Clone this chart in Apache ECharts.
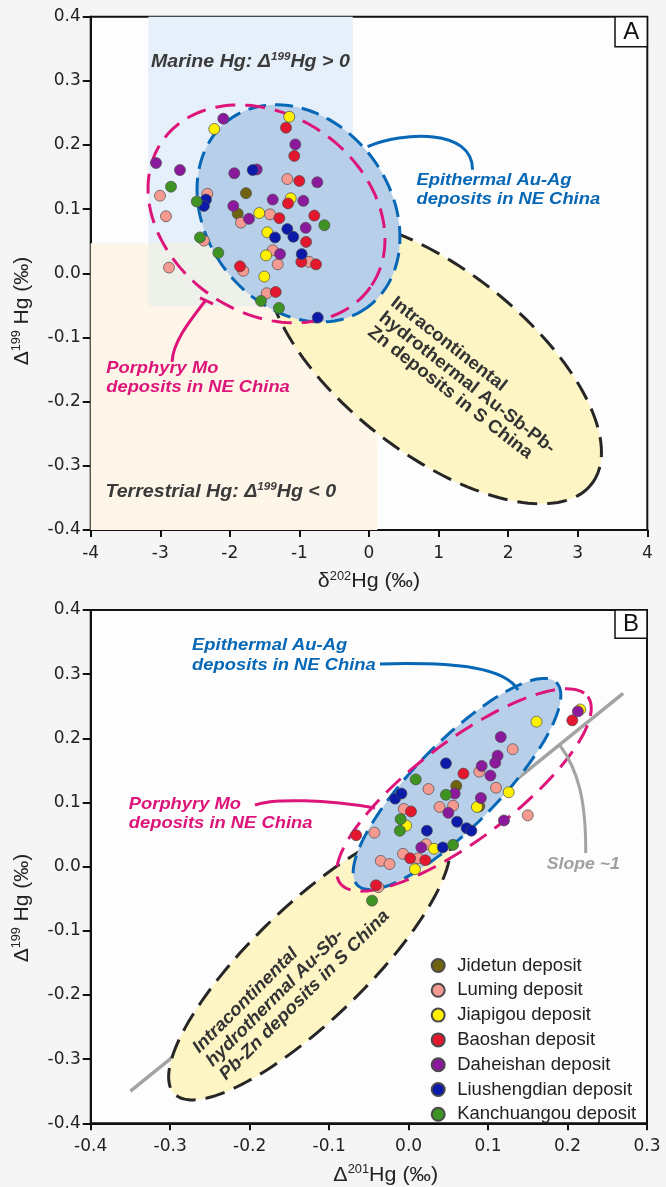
<!DOCTYPE html>
<html>
<head>
<meta charset="utf-8">
<script src="https://cdn.jsdelivr.net/npm/echarts/dist/echarts.min.js"></script>
<style>html,body{margin:0;padding:0;background:#f5f5f5;}#c{width:666px;height:1187px;}</style>
</head>
<body>
<div id="c"></div>
<script>
// ---------- axis ranges [min, max, interval] ----------
const axisAx = [-4, 4, 1];
const axisAy = [-0.4, 0.4, 0.1];
const axisBx = [-0.4, 0.3, 0.1];
const axisBy = [-0.4, 0.4, 0.1];

// ---------- series names ----------
const seriesNames = ['Jidetun deposit','Luming deposit','Jiapigou deposit','Baoshan deposit','Daheishan deposit','Liushengdian deposit','Kanchuangou deposit'];

// ---------- Panel A data: [d202Hg, D199Hg] ----------
const A_Jidetun = [[-1.768,0.125],[-1.887,0.093]];
const A_Luming = [[-3.004,0.121],[-2.918,0.089],[-1.174,0.147],[-2.324,0.124],[-1.840,0.079],[-1.423,0.092],[-2.372,0.051],[-1.384,0.036],[-1.312,0.014],[-0.862,0.018],[-1.807,0.004],[-2.875,0.009],[-1.470,-0.031]];
const A_Jiapigou = [[-2.224,0.225],[-1.146,0.244],[-1.125,0.117],[-1.577,0.094],[-1.462,0.064],[-1.480,0.028],[-1.505,-0.005]];
const A_Baoshan = [[-1.193,0.227],[-1.074,0.183],[-1.002,0.144],[-1.164,0.109],[-1.289,0.086],[-0.786,0.090],[-0.905,0.049],[-0.973,0.018],[-0.762,0.014],[-1.854,0.011],[-1.341,-0.029]];
const A_Daheishan = [[-2.094,0.241],[-1.059,0.201],[-3.061,0.172],[-2.717,0.161],[-1.936,0.156],[-1.614,0.162],[-0.743,0.142],[-1.384,0.115],[-0.944,0.113],[-1.950,0.105],[-1.725,0.085],[-0.910,0.071],[-1.279,0.030]];
const A_Liushengdian = [[-1.672,0.161],[-2.343,0.115],[-2.372,0.105],[-1.351,0.056],[-1.174,0.069],[-1.088,0.057],[-0.967,0.030],[-0.737,-0.069]];
const A_Kanchuangou = [[-2.846,0.135],[-2.476,0.112],[-0.642,0.075],[-2.429,0.056],[-2.166,0.032],[-1.552,-0.043],[-1.294,-0.054]];

// ---------- Panel B data: [D201Hg, D199Hg] ----------
const B_Jidetun = [[0.060,0.126],[0.089,0.094]];
const B_Luming = [[0.131,0.183],[0.089,0.148],[0.110,0.123],[0.025,0.121],[0.039,0.093],[0.056,0.095],[-0.006,0.090],[0.150,0.080],[-0.043,0.053],[0.022,0.035],[-0.007,0.020],[0.012,0.013],[-0.035,0.009],[-0.024,0.004],[-0.038,-0.032]];
const B_Jiapigou = [[0.216,0.245],[0.161,0.226],[0.126,0.116],[0.086,0.093],[-0.003,0.064],[0.032,0.028],[0.008,-0.004]];
const B_Baoshan = [[0.206,0.228],[0.069,0.145],[0.003,0.086],[-0.066,0.049],[0.002,0.013],[0.021,0.010],[-0.041,-0.029]];
const B_Daheishan = [[0.213,0.242],[0.116,0.202],[0.112,0.173],[0.109,0.162],[0.092,0.157],[0.103,0.142],[0.058,0.114],[0.050,0.084],[0.091,0.107],[0.120,0.072],[0.016,0.030]];
const B_Liushengdian = [[0.047,0.161],[-0.017,0.106],[-0.009,0.114],[0.061,0.070],[0.073,0.060],[0.079,0.056],[0.023,0.056],[0.043,0.030]];
const B_Kanchuangou = [[0.009,0.136],[0.047,0.112],[-0.010,0.074],[-0.011,0.056],[0.056,0.034],[-0.046,-0.053]];

// ---------- field regions (data units): [x0, y0, x1, y1] ----------
const marineRegion = [-3.171, -0.0507, -0.232, 0.4];
const terrestrialRegion = [-4, -0.4, 0.121, 0.047];

// ---------- field ellipses (data units): [cx, cy, semiAxis1 dx, dy, semiAxis2 dx, dy] ----------
const ellA_intra = [0.934, -0.1364, 2.265, -0.192, -0.815, -0.113];
const ellA_epi = [-1.0133, 0.0935, 0.996, -0.146, -1.065, -0.0856];
const ellA_por = [-1.4732, 0.0927, 1.4934, -0.1142, -0.8178, -0.1256];
const ellB_intra = [-0.1247, -0.1501, 0.1701, 0.2037, 0.0498, -0.0639];
const ellB_epi = [0.0609, 0.1289, 0.1251, 0.158, 0.0377, -0.0458];
const ellB_por = [0.0697, 0.1195, 0.1558, 0.1454, 0.0371, -0.0611];

// ---------- slope ~1 reference line ----------
const slopeLine = [[-0.35,-0.35],[0.27,0.27]];

// ---------- callout curves (start, cp1, cp2, end) ----------
const calloutBlueA = [[-0.020,0.1976],[0.489,0.2205],[1.489,0.2268],[1.489,0.1613]];
const calloutMagA = [[-2.343,-0.0413],[-2.587,-0.0756],[-2.817,-0.1068],[-2.831,-0.1379]];
const tickMagA = [[-2.429,-0.0382],[-2.242,-0.0475]];
const calloutBlueB = [[-0.036,0.3159],[0.0647,0.3191],[0.1213,0.3097],[0.1377,0.2754]];
const calloutMagB = [[-0.1933,0.0961],[-0.1694,0.1071],[-0.1015,0.104],[-0.0423,0.0915]];
const calloutGrayB = [[0.19,0.19],[0.2132,0.1507],[0.2233,0.104],[0.2229,0.0214]];

// ---------- styles ----------
const COLORS = ['#6f6310','#f59a90','#fff000','#e3172d','#8a1a9b','#0b1aa8','#3f9323'];
const BLUE = '#0567b5', MAG = '#dd1479', DARK = '#262626', GRAY = '#a3a3a3';
const FONT = 'Liberation Sans, Arial, sans-serif';

const chart = echarts.init(document.getElementById('c'), null, {renderer:'canvas'});

function fmt1(v){ return Math.abs(v) < 1e-9 ? '0.0' : v.toFixed(1); }

function makeX(gi, r, fmt){
  return {gridIndex:gi, type:'value', min:r[0], max:r[1], interval:r[2],
    axisLine:{show:true, onZero:false, lineStyle:{color:'#111', width:2}},
    axisTick:{show:true, length:7, lineStyle:{color:'#111', width:2}},
    axisLabel:{margin:15, fontSize:17, fontFamily:'DejaVu Sans', color:'#222', formatter:fmt},
    splitLine:{show:false}};
}
function makeY(gi, r){
  return {gridIndex:gi, type:'value', min:r[0], max:r[1], interval:r[2],
    axisLine:{show:true, onZero:false, lineStyle:{color:'#111', width:2}},
    axisTick:{show:true, length:8, lineStyle:{color:'#111', width:2}},
    axisLabel:{margin:10, fontSize:17, fontFamily:'DejaVu Sans', color:'#222', formatter:fmt1},
    splitLine:{show:false}};
}

function ellipseSeries(gi, e, style, z){
  return {type:'custom', xAxisIndex:gi, yAxisIndex:gi, z:z, silent:true, data:[[e[0], e[1]]],
    renderItem:function(p, api){
      const c = api.coord([e[0], e[1]]);
      const pa = api.coord([e[0]+e[2], e[1]+e[3]]);
      const pb = api.coord([e[0]+e[4], e[1]+e[5]]);
      const ax = pa[0]-c[0], ay = pa[1]-c[1], bx = pb[0]-c[0], by = pb[1]-c[1];
      const pts = [];
      const N = 160;
      for (let i = 0; i < N; i++){
        const t = i / N * 2 * Math.PI;
        pts.push([c[0] + Math.cos(t)*ax + Math.sin(t)*bx, c[1] + Math.cos(t)*ay + Math.sin(t)*by]);
      }
      return {type:'polygon', shape:{points:pts}, style:Object.assign({}, style)};
    }};
}

function curveSeries(gi, curves, z){
  return {type:'custom', xAxisIndex:gi, yAxisIndex:gi, z:z, silent:true, data:[[0,0]],
    renderItem:function(p, api){
      const children = curves.map(function(cv){
        const pts = cv.pts.map(function(q){ return api.coord(q); });
        if (pts.length === 2){
          return {type:'line', shape:{x1:pts[0][0], y1:pts[0][1], x2:pts[1][0], y2:pts[1][1]},
            style:{stroke:cv.color, lineWidth:cv.width}};
        }
        return {type:'bezierCurve', shape:{x1:pts[0][0], y1:pts[0][1], cpx1:pts[1][0], cpy1:pts[1][1], cpx2:pts[2][0], cpy2:pts[2][1], x2:pts[3][0], y2:pts[3][1]},
          style:{stroke:cv.color, lineWidth:cv.width, fill:null}};
      });
      return {type:'group', children:children};
    }};
}

function regionSeries(){
  return {type:'custom', xAxisIndex:0, yAxisIndex:0, z:1, silent:true, data:[[0,0]],
    renderItem:function(p, api){
      function rect(r, fill){
        const a = api.coord([r[0], r[3]]), b = api.coord([r[2], r[1]]);
        return {type:'rect', shape:{x:a[0], y:a[1], width:b[0]-a[0], height:b[1]-a[1]}, style:{fill:fill}};
      }
      const ov = [Math.max(marineRegion[0], terrestrialRegion[0]), Math.max(marineRegion[1], terrestrialRegion[1]),
                  Math.min(marineRegion[2], terrestrialRegion[2]), Math.min(marineRegion[3], terrestrialRegion[3])];
      return {type:'group', children:[rect(marineRegion, '#e6f0fb'), rect(terrestrialRegion, '#fdf6e8'), rect(ov, '#eef1ea')]};
    }};
}

function scatter(name, data, gi, color){
  return {type:'scatter', name:name, xAxisIndex:gi, yAxisIndex:gi, data:data, symbol:'circle', symbolSize:11, z:10,
    itemStyle:{color:color, borderColor:'#4a4a4a', borderWidth:0.7, opacity:1}, emphasis:{disabled:true}};
}

const yellowStyle = {fill:'#fdf5c4', stroke:DARK, lineWidth:3, lineDash:[20,10]};
const blueStyle = {fill:'#b8cfea', stroke:BLUE, lineWidth:3, lineDash:[18,9]};
const magStyle = {fill:'transparent', stroke:MAG, lineWidth:3, lineDash:[20,10]};

const A_sets = [A_Jidetun, A_Luming, A_Jiapigou, A_Baoshan, A_Daheishan, A_Liushengdian, A_Kanchuangou];
const B_sets = [B_Jidetun, B_Luming, B_Jiapigou, B_Baoshan, B_Daheishan, B_Liushengdian, B_Kanchuangou];

const series = [
  regionSeries(),
  ellipseSeries(0, ellA_intra, yellowStyle, 2),
  ellipseSeries(0, ellA_epi, blueStyle, 3),
  ellipseSeries(0, ellA_por, magStyle, 4),
  curveSeries(0, [{pts:calloutBlueA, color:BLUE, width:3},{pts:calloutMagA, color:MAG, width:3},{pts:tickMagA, color:MAG, width:3}], 4),
  {type:'line', xAxisIndex:1, yAxisIndex:1, data:slopeLine, symbol:'none', z:1, silent:true, lineStyle:{color:GRAY, width:3.5}},
  ellipseSeries(1, ellB_intra, yellowStyle, 2),
  ellipseSeries(1, ellB_epi, blueStyle, 3),
  ellipseSeries(1, ellB_por, magStyle, 4),
  curveSeries(1, [{pts:calloutBlueB, color:BLUE, width:3},{pts:calloutMagB, color:MAG, width:3},{pts:calloutGrayB, color:GRAY, width:3}], 4)
];
seriesNames.forEach(function(n, i){ series.push(scatter(n, A_sets[i], 0, COLORS[i])); });
seriesNames.forEach(function(n, i){ series.push(scatter(n, B_sets[i], 1, COLORS[i])); });

// ---------- text helpers ----------
function label(x, y, text, o){
  o = o || {};
  const size = o.size || 17;
  const base = {fontSize:size, fontFamily:FONT, fontWeight:o.weight || 'bold', fontStyle:o.style || 'italic', fill:o.color || '#3a3a3a', lineHeight:size+3};
  const sup = {fontSize:Math.round(size*0.62), fontFamily:FONT, fontWeight:o.weight || 'bold', fontStyle:o.style || 'italic', fill:o.color || '#3a3a3a', verticalAlign:'top', lineHeight:Math.round(size*0.7)};
  return {type:'text', x:x, y:y, z:100, silent:true, rotation:o.rot || 0, scaleX:o.sx || 1,
    style:{text:text, align:o.align || 'left', verticalAlign:'middle', fontSize:size, fontFamily:FONT,
      fontWeight:base.fontWeight, fontStyle:base.fontStyle, fill:base.fill, rich:{t:base, s:sup}}};
}
const deg = Math.PI/180;

const graphics = [
  // panel letters
  {type:'rect', z:100, silent:true, shape:{x:615, y:16.7, width:32.3, height:30}, style:{fill:'#ffffff', stroke:'#111', lineWidth:1.5}},
  {type:'text', z:101, silent:true, x:631.2, y:32, style:{text:'A', fontSize:24, fontFamily:FONT, fill:'#111', align:'center', verticalAlign:'middle'}},
  {type:'rect', z:100, silent:true, shape:{x:615, y:610, width:32, height:28.3}, style:{fill:'#ffffff', stroke:'#111', lineWidth:1.5}},
  {type:'text', z:101, silent:true, x:631, y:624.5, style:{text:'B', fontSize:24, fontFamily:FONT, fill:'#111', align:'center', verticalAlign:'middle'}},
  // axis titles
  label(369, 581.7, '{t|δ}{s|202}{t|Hg (‰)}', {size:20, weight:'normal', style:'normal', color:'#222', align:'center', sx:1.07}),
  label(22.5, 311, '{t|Δ}{s|199}{t| Hg (‰)}', {size:20, weight:'normal', style:'normal', color:'#222', align:'center', sx:1.05, rot:90*deg}),
  label(385.7, 1175, '{t|Δ}{s|201}{t|Hg (‰)}', {size:20, weight:'normal', style:'normal', color:'#222', align:'center', sx:1.07}),
  label(22.5, 908, '{t|Δ}{s|199}{t| Hg (‰)}', {size:20, weight:'normal', style:'normal', color:'#222', align:'center', sx:1.05, rot:90*deg}),
  // panel A annotations
  label(151, 62, '{t|Marine Hg: Δ}{s|199}{t|Hg > 0}', {size:18.5, sx:1.06}),
  label(105.4, 492, '{t|Terrestrial Hg: Δ}{s|199}{t|Hg < 0}', {size:18.5, sx:1.06}),
  label(416.5, 180, '{t|Epithermal Au-Ag}', {size:17, sx:1.08, color:BLUE}),
  label(416.5, 199, '{t|deposits in NE China}', {size:17, sx:1.08, color:BLUE}),
  label(106.2, 368.3, '{t|Porphyry Mo}', {size:17, sx:1.08, color:MAG}),
  label(106.2, 387, '{t|deposits in NE China}', {size:17, sx:1.08, color:MAG}),
  label(392.7, 300.5, '{t|Intracontinental}', {size:18, sx:1.05, style:'normal', color:'#333', rot:-38*deg}),
  label(381, 315.7, '{t|hydrothermal Au-Sb-Pb-}', {size:18, sx:1.05, style:'normal', color:'#333', rot:-38*deg}),
  label(369.7, 330, '{t|Zn deposits in S China}', {size:18, sx:1.05, style:'normal', color:'#333', rot:-38*deg}),
  // panel B annotations
  label(192.1, 645, '{t|Epithermal Au-Ag}', {size:17, sx:1.08, color:BLUE}),
  label(192.1, 665, '{t|deposits in NE China}', {size:17, sx:1.08, color:BLUE}),
  label(128.8, 804.7, '{t|Porphyry Mo}', {size:17, sx:1.08, color:MAG}),
  label(128.8, 823.3, '{t|deposits in NE China}', {size:17, sx:1.08, color:MAG}),
  label(546.7, 864, '{t|Slope ~1}', {size:17, sx:1.04, color:'#a0a0a0'}),
  label(195.8, 1050.3, '{t|Intracontinental}', {size:18, sx:1.04, color:'#333', rot:45*deg}),
  label(209.2, 1063.8, '{t|hydrothermal Au-Sb-}', {size:18, sx:1.04, color:'#333', rot:45*deg}),
  label(222.6, 1077.2, '{t|Pb-Zn deposits in S China}', {size:18, sx:1.04, color:'#333', rot:45*deg})
];

chart.setOption({
  backgroundColor:'#f5f5f5',
  animation:false,
  grid:[
    {left:90.7, right:18.7, top:16.7, height:513.3, show:true, backgroundColor:'#fdfdfd', borderColor:'#111', borderWidth:2},
    {left:90.7, right:19, top:610, height:513.3, show:true, backgroundColor:'#fdfdfd', borderColor:'#111', borderWidth:2}
  ],
  xAxis:[ makeX(0, axisAx, function(v){ return String(Math.round(v)); }), makeX(1, axisBx, fmt1) ],
  yAxis:[ makeY(0, axisAy), makeY(1, axisBy) ],
  legend:{data:seriesNames, orient:'vertical', left:430.7, top:956, padding:0, itemGap:5.8, itemWidth:28, itemHeight:13,
    icon:'circle', selectedMode:false,
    textStyle:{fontSize:18.5, fontFamily:FONT, color:'#222', lineHeight:18}},
  series:series,
  graphic:{elements:graphics}
});
</script>
</body>
</html>
